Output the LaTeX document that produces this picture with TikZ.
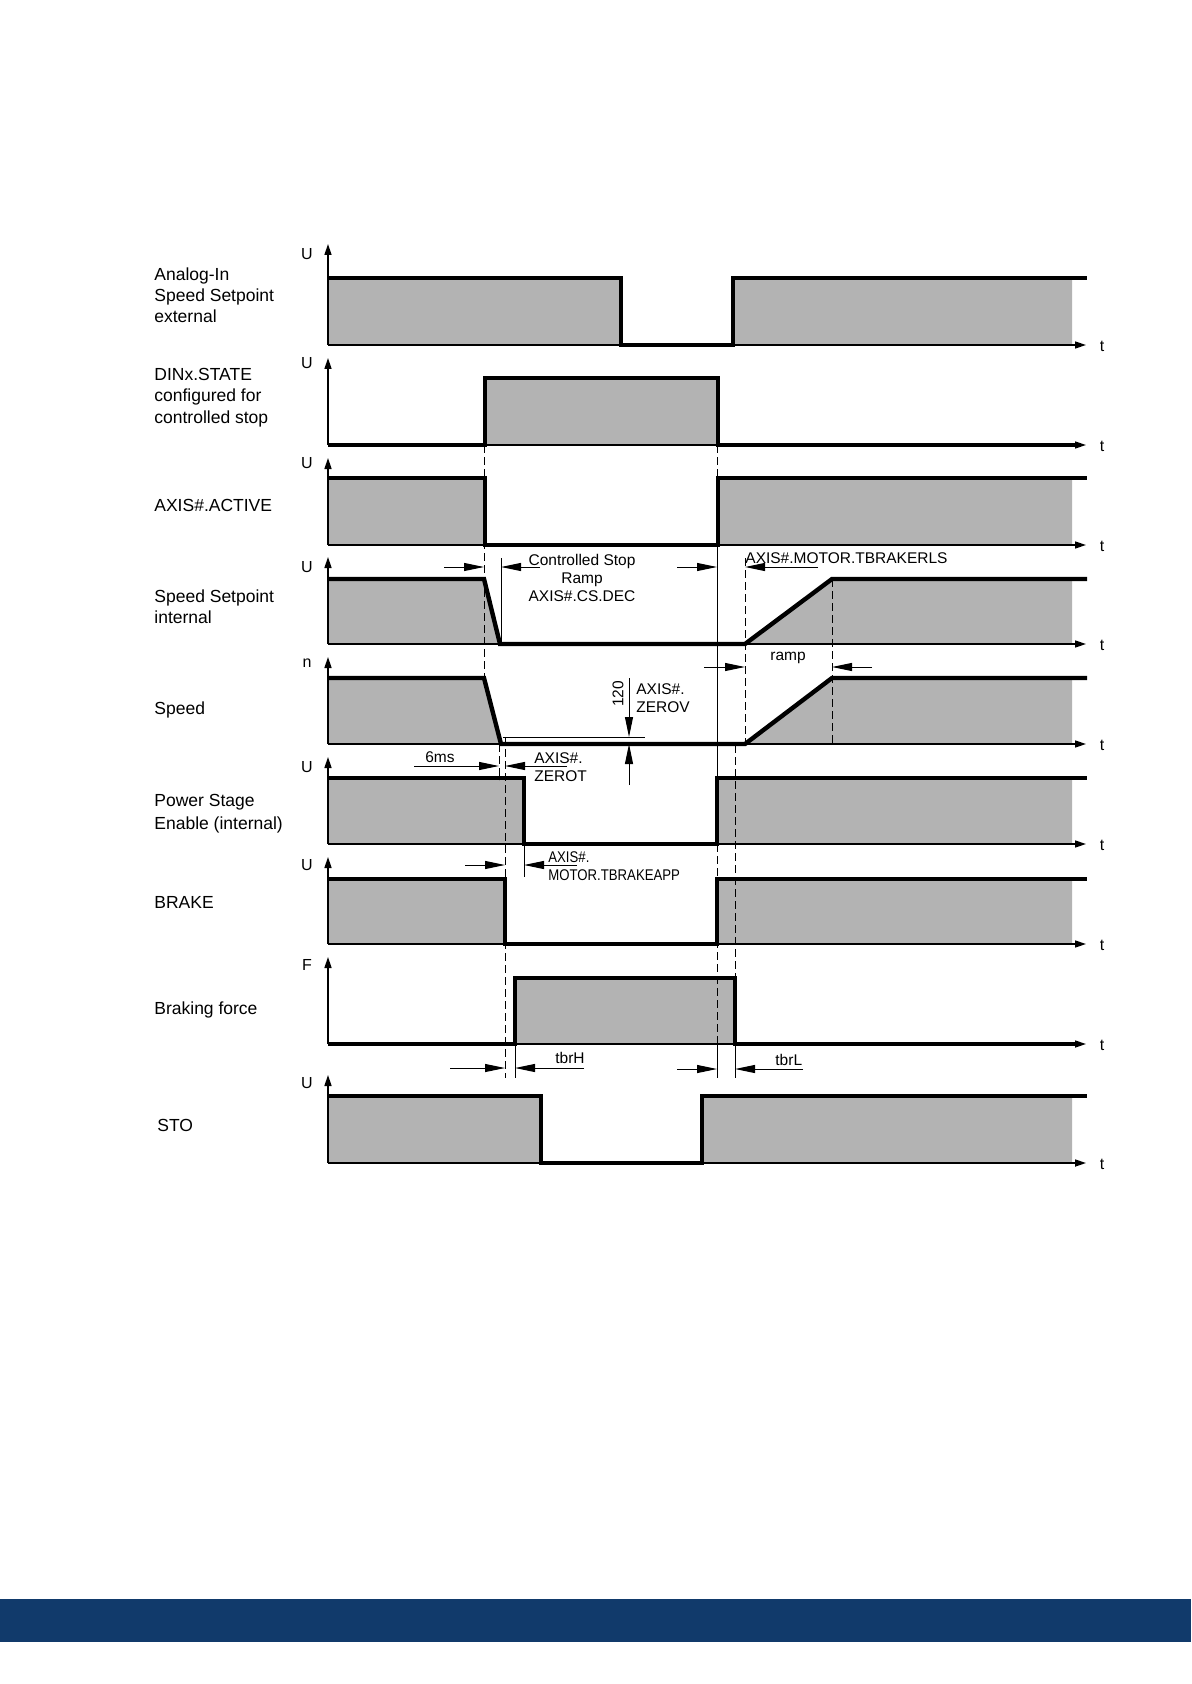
\documentclass[tikz,border=0pt]{standalone}
\usepackage{fontspec}
\setmainfont{Liberation Sans}
\newfontfamily\narrowfont[FakeStretch=0.85]{Liberation Sans}
\usetikzlibrary{arrows.meta}
\definecolor{fillgray}{RGB}{179,179,179}
\definecolor{footblue}{RGB}{17,58,107}

\begin{document}
\begin{tikzpicture}[x=0.5pt, y=-0.5pt, >={Triangle[length=5.5pt,width=3.5pt]},
  sig/.style={line width=2.2pt, line join=miter},
  axis/.style={line width=0.8pt},
  ext/.style={line width=0.5pt},
  guide/.style={line width=0.5pt, dash pattern=on 4pt off 2pt},
  dim/.style={line width=0.5pt, -{Triangle[length=10pt,width=4pt]}},
  lbl/.style={anchor=base west, align=left, inner sep=0pt, font=\fontsize{8.75}{10.5}\selectfont},
  note/.style={inner sep=0pt, font=\fontsize{7.75}{9}\selectfont},
  axl/.style={inner sep=0pt, font=\fontsize{8}{9}\selectfont}]
  \useasboundingbox (0,0) rectangle (1191,1684);
  \fill[footblue] (0,1599) rectangle (1191,1642);

  \fill[fillgray] (328,278) rectangle (621,345) (733,278) rectangle (1072,345);
  \fill[fillgray] (485,378) rectangle (718,445);
  \fill[fillgray] (328,478) rectangle (485,545) (718,478) rectangle (1072,545);
  \fill[fillgray] (328,579) -- (484,579) -- (500,644) -- (328,644) -- cycle
                  (745,644) -- (832,579) -- (1072,579) -- (1072,644) -- cycle;
  \fill[fillgray] (328,678) -- (484,678) -- (501,744) -- (328,744) -- cycle
                  (745,744) -- (832,678) -- (1072,678) -- (1072,744) -- cycle;
  \fill[fillgray] (328,778) rectangle (524,844) (717,778) rectangle (1072,844);
  \fill[fillgray] (328,879) rectangle (505,944) (717,879) rectangle (1072,944);
  \fill[fillgray] (515,978) rectangle (735,1044);
  \fill[fillgray] (328,1096) rectangle (541,1163) (702,1096) rectangle (1072,1163);

  \foreach \b/\h/\s/\ly [count=\i] in {345/101/U/254, 445/87/U/363, 545/87/U/463,
      644/87/U/567, 744/87/n/663, 844/87/U/767, 944/87/U/865, 1044/87/F/965, 1163/88/U/1083} {
    \draw[axis,->] (328,\b) -- (328,\b-\h);
    \draw[axis,->] (328,\b) -- (1086,\b);
    \node[axl] (ya\i) at (307,\ly) {\s};
    \node[axl] (ta\i) at (1102,\b+1) {t};
  }

  \draw[guide] (484,445) -- (484,678);
  \draw[guide] (717,445) -- (717,478);
  \draw[ext] (717,545) -- (717,844);
  \draw[guide] (717,844) -- (717,1044);
  \draw[ext] (717,1044) -- (717,1078);
  \draw[guide] (745,558) -- (745,744);
  \draw[guide] (832,579) -- (832,744);
  \draw[guide] (735,745) -- (735,1044);
  \draw[ext] (735,1044) -- (735,1078);
  \draw[guide] (499,744) -- (499,780);
  \draw[guide] (505,737) -- (505,1078);
  \draw[ext] (501,558) -- (501,644);
  \draw[ext] (524,844) -- (524,877);
  \draw[ext] (515,1044) -- (515,1078);
  \draw[ext] (503,737) -- (645,737);

  \draw[sig] (328,278) -- (621,278) -- (621,345) -- (733,345) -- (733,278) -- (1087,278);
  \draw[sig] (328,445) -- (485,445) -- (485,378) -- (718,378) -- (718,445) -- (1078,445);
  \draw[sig] (328,478) -- (485,478) -- (485,545) -- (718,545) -- (718,478) -- (1087,478);
  \draw[sig] (328,579) -- (484,579) -- (500,644) -- (745,644) -- (832,579) -- (1087,579);
  \draw[sig] (328,678) -- (484,678) -- (501,744) -- (745,744) -- (832,678) -- (1087,678);
  \draw[sig] (328,778) -- (524,778) -- (524,844) -- (717,844) -- (717,778) -- (1087,778);
  \draw[sig] (328,879) -- (505,879) -- (505,944) -- (717,944) -- (717,879) -- (1087,879);
  \draw[sig] (328,1044) -- (515,1044) -- (515,978) -- (735,978) -- (735,1044) -- (1078,1044);
  \draw[sig] (328,1096) -- (541,1096) -- (541,1163) -- (702,1163) -- (702,1096) -- (1087,1096);

  \draw[dim] (444,567) -- (484,567);
  \draw[dim] (540,567) -- (501,567);
  \draw[dim] (677,567) -- (717,567);
  \draw[dim] (818,567) -- (745,567);
  \draw[dim] (704,667) -- (745,667);
  \draw[dim] (872,667) -- (832,667);
  \draw[dim] (414,766) -- (499,766);
  \draw[dim] (567,766) -- (505,766);
  \draw[dim] (465,865) -- (505,865);
  \draw[dim] (577,865) -- (524,865);
  \draw[dim] (450,1068) -- (505,1068);
  \draw[dim] (584,1068) -- (515,1068);
  \draw[dim] (677,1069) -- (717,1069);
  \draw[dim] (803,1069) -- (735,1069);
  \draw[dim] (629,678) -- (629,737);
  \draw[dim] (629,785) -- (629,744);

  \node[lbl] (lAnalog) at (154,323) {Analog-In\\Speed Setpoint\\external};
  \node[lbl] (lDin) at (154,423) {DINx.STATE\\configured for\\controlled stop};
  \node[lbl] (lActive) at (154,511) {AXIS\#.ACTIVE};
  \node[lbl] (lSetInt) at (154,623) {Speed Setpoint\\internal};
  \node[lbl] (lSpeed) at (154,714) {Speed};
  \node[lbl, font=\fontsize{8.75}{11.3}\selectfont] (lPower) at (154,829) {Power Stage\\Enable (internal)};
  \node[lbl] (lBrake) at (154,908) {BRAKE};
  \node[lbl] (lForce) at (154,1014) {Braking force};
  \node[lbl] (lSto) at (157,1131) {STO};

  \node[note, align=center] (tCsd) at (582,578) {Controlled Stop\\Ramp\\AXIS\#.CS.DEC};
  \node[note, anchor=base west] (tRls) at (745,563) {AXIS\#.MOTOR.TBRAKERLS};
  \node[note, anchor=base] (tRamp) at (788,660) {ramp};
  \node[note, rotate=90] (tZeroNum) at (618,694) {120};
  \node[note, anchor=base west, align=left] (tZerov) at (636,712) {AXIS\#.\\ZEROV};
  \node[note, anchor=base] (t6ms) at (440,762) {6ms};
  \node[note, anchor=base west, align=left] (tZerot) at (534,781) {AXIS\#.\\ZEROT};
  \node[note, anchor=base west, align=left, font=\fontsize{7.75}{8.6}\narrowfont] (tApp) at (548,880) {AXIS\#.\\MOTOR.TBRAKEAPP};
  \node[note, anchor=base west] (tbrH) at (555,1063) {tbrH};
  \node[note, anchor=base west] (tbrL) at (775,1065) {tbrL};
\end{tikzpicture}
\end{document}
